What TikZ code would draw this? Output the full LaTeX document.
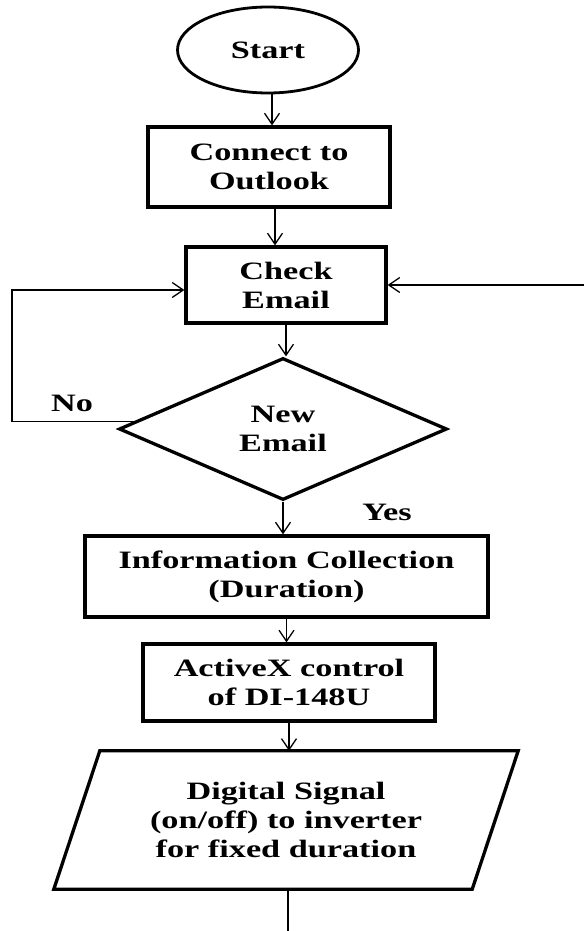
\documentclass[tikz,border=0pt]{standalone}
\usepackage{fontspec}
\newfontfamily\dfont[FakeStretch=1.37]{Liberation Serif}
\usetikzlibrary{shapes.geometric,arrows.meta,calc}
\begin{document}
\begin{tikzpicture}[x=1pt,y=-1pt,
  every node/.style={font=\dfont\bfseries\fontsize{25}{29}\selectfont, align=center, inner sep=0pt},
  boxnode/.style={draw, line width=3.3pt, rectangle},
  arr/.style={line width=1.3pt, -{Straight Barb[length=11pt,width=15pt,line width=1.3pt]}},
  plain/.style={line width=1.3pt}]
\useasboundingbox (0,0) rectangle (584,931);
\fill[white] (0,0) rectangle (584,931);

\node[draw, ellipse, line width=2.8pt, minimum width=181pt, minimum height=86pt] (start) at (268,50) {Start};
\node[boxnode, minimum width=242pt, minimum height=80pt] (conn) at (269,167) {Connect to\\Outlook};
\node[boxnode, minimum width=200pt, minimum height=76pt] (check) at (286,285) {Check\\Email};
\node[draw, diamond, aspect=2.3, line width=3.3pt, minimum width=328pt, minimum height=142pt] (dec) at (283,429) {New\\Email};
\node[boxnode, minimum width=403pt, minimum height=81pt] (info) at (286.5,576.5) {Information Collection\\(Duration)};
\node[boxnode, minimum width=292pt, minimum height=77pt] (actx) at (289,682.5) {ActiveX control\\of DI-148U};
\node[minimum width=418pt, minimum height=138pt] (sig) at (286,820) {Digital Signal\\(on/off) to inverter\\for fixed duration};
\draw[line width=3.3pt, line join=miter]
  ([xshift=23pt]sig.north west) -- ([xshift=23pt]sig.north east) --
  ([xshift=-23pt]sig.south east) -- ([xshift=-23pt]sig.south west) -- cycle;

\node (no) at (72,403) {No};
\node (yes) at (387,512) {Yes};

\coordinate (rin) at (584,285);
\coordinate (lc1) at (12,422);
\coordinate (lc2) at (12,290);
\coordinate (bend) at ($(dec.west)!0.1!(dec.north)$);
\coordinate (endpt) at (288,931);

\draw[arr] ([xshift=4pt]start.south) -- ([xshift=4pt]start.south |- conn.north);
\draw[arr] ([xshift=6pt]conn.south) -- ([xshift=6pt]conn.south |- check.north);
\draw[arr] (check.south) -- (check.south |- dec.north);
\draw[arr] (dec.south) -- (dec.south |- info.north);
\draw[arr] (info.south) -- (info.south |- actx.north);
\draw[arr] (actx.south) -- (actx.south |- sig.north);
\draw[plain] (sig.south -| endpt) -- (endpt);
\draw[arr] (rin) -- (check.east);
\draw[arr] (bend) -- (bend -| lc1) -- (lc2) -- (lc2 -| check.west);
\end{tikzpicture}
\end{document}
